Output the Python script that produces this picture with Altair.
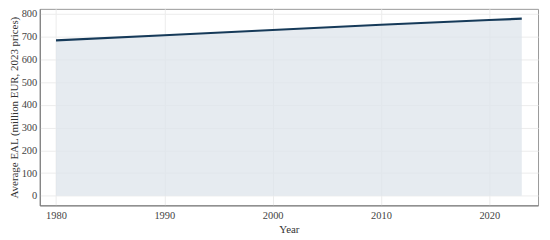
import altair as alt
import pandas as pd

years = [1980, 1990, 2000, 2010, 2020, 2023]
eal = [683, 706, 729, 752, 773, 779]

df = pd.DataFrame({"Year": years, "EAL": eal})

font = "Liberation Serif"

base = alt.Chart(df).encode(
    x=alt.X("Year:Q", scale=alt.Scale(domain=[1978.5, 2024.5], nice=False, zero=False),
            axis=alt.Axis(title="Year", values=[1980, 1990, 2000, 2010, 2020], format="d",
                          grid=True, gridColor="#ececec", ticks=False, labelPadding=5,
                          domainColor="#777", labelColor="#444", titleColor="#333",
                          labelFontSize=10.5, titleFontSize=11, labelFont=font, titleFont=font,
                          titleFontWeight="normal", titlePadding=3)),
    y=alt.Y("EAL:Q", scale=alt.Scale(domain=[-42, 822], nice=False, zero=False),
            axis=alt.Axis(title="Average EAL (million EUR, 2023 prices)",
                          values=[0, 100, 200, 300, 400, 500, 600, 700, 800],
                          grid=True, gridColor="#ececec", ticks=False, labelPadding=3,
                          domainColor="#777", labelColor="#444", titleColor="#333",
                          labelFontSize=10.5, titleFontSize=11, labelFont=font, titleFont=font,
                          titleFontWeight="normal", titlePadding=2)),
)

area = base.mark_area(color="#dde4eb", opacity=0.75)
line = base.mark_line(color="#163a59", strokeWidth=2.2)

chart = (area + line).properties(
    width=538, height=228,
    autosize=alt.AutoSizeParams(type="fit", contains="padding"),
    padding={"left": 0, "top": 0, "right": 4, "bottom": 0},
).configure_view(stroke="#999", strokeWidth=1)

chart.save("out.html", embed_options={"renderer": "svg", "actions": False})
